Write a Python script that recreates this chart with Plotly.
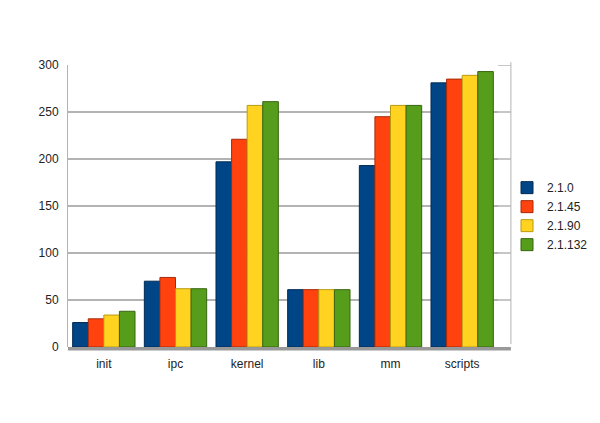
import plotly.graph_objects as go

categories = ["init", "ipc", "kernel", "lib", "mm", "scripts"]
series_names = ["2.1.0", "2.1.45", "2.1.90", "2.1.132"]
v_2_1_0 = [26, 70, 197, 61, 193, 281]
v_2_1_45 = [30, 74, 221, 61, 245, 285]
v_2_1_90 = [34, 62, 257, 61, 257, 289]
v_2_1_132 = [38, 62, 261, 61, 257, 293]
values = [v_2_1_0, v_2_1_45, v_2_1_90, v_2_1_132]
colors = ["#004586", "#ff420e", "#ffd320", "#579d1c"]
edge = ["#002a52", "#a82a08", "#b89a10", "#36650f"]
y_ticks = [0, 50, 100, 150, 200, 250, 300]

fig = go.Figure()
for name, vals, c, e in zip(series_names, values, colors, edge):
    fig.add_trace(go.Bar(
        x=categories, y=vals, name=name,
        marker=dict(color=c, line=dict(color=e, width=1)),
    ))

fig.update_layout(
    width=600, height=423,
    margin=dict(l=68, r=102, t=65, b=76, autoexpand=False),
    paper_bgcolor="white", plot_bgcolor="white",
    barmode="group", bargap=0.13, bargroupgap=0.0,
    font=dict(family="Liberation Sans, Arial, sans-serif", size=12, color="#222"),
    showlegend=True,
    legend=dict(xref="container", yref="container", x=0.845, y=0.489,
                xanchor="left", yanchor="middle", bgcolor="rgba(0,0,0,0)",
                font=dict(size=12, color="#222"), itemwidth=30,
                tracegroupgap=0, traceorder="normal"),
    xaxis=dict(showgrid=False, showline=False,
               ticks="", tickfont=dict(size=12), ticklabelstandoff=8),
    yaxis=dict(range=[0, 300], tickvals=y_ticks, showgrid=True,
               gridcolor="#b3b3b3", gridwidth=1.5, showline=True,
               linecolor="#b3b3b3", linewidth=1, ticks="", zeroline=False,
               tickfont=dict(size=12), ticklabelstandoff=6),
)
# extend gridlines onto the right wall (3D look)
for t in y_ticks[1:]:
    fig.add_shape(type="line", xref="paper", yref="y", x0=1.0, x1=1.03,
                  y0=t, y1=t, line=dict(color="#b3b3b3", width=1.5), layer="below")
fig.add_shape(type="line", xref="paper", yref="paper", x0=1.03, x1=1.03,
              y0=0.01, y1=1.01, line=dict(color="#b3b3b3", width=1), layer="below")
# floor band
fig.add_shape(type="rect", xref="paper", yref="paper", x0=0, x1=1.03,
              y0=-0.012, y1=0.0, fillcolor="#999", line=dict(width=0), layer="below")
fig.write_html("out.html")
